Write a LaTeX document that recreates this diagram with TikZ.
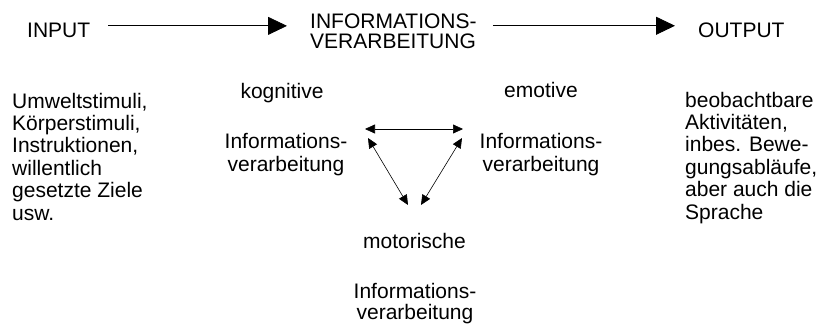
\documentclass[tikz,border=0pt]{standalone}
\usepackage{fontspec}
\setmainfont{Liberation Sans}
\usetikzlibrary{arrows.meta}

\begin{document}
\begin{tikzpicture}[x=1pt, y=1pt,
  txt/.style={inner sep=0pt, font=\fontsize{21}{22.4}\selectfont},
  flow/.style={line width=0.8pt, -{Triangle[length=19pt, width=18pt]}},
  link/.style={line width=0.6pt, {Triangle[length=10pt, width=9pt]}-{Triangle[length=10pt, width=9pt]}}]
\path[use as bounding box] (0,0) rectangle (817,-324);
% top row (multi-line nodes sit on their last baseline)
\node[txt, anchor=base west] (input) at (27,-37) {INPUT};
\node[txt, anchor=base west, align=left, font=\fontsize{21}{20}\selectfont] (info) at (310,-48) {INFORMATIONS-\\VERARBEITUNG};
\node[txt, anchor=base west] (output) at (698,-37) {OUTPUT};
\draw[flow, shorten <=18pt, shorten >=23pt] ([yshift=4pt]input.east) -- ([yshift=4pt]input.east -| info.west);
\draw[flow, shorten <=16pt, shorten >=23pt] ([yshift=4pt]output.west -| info.east) -- ([yshift=4pt]output.west);
% input and output texts
\node[txt, anchor=base west, align=left] (stimuli) at (12,-220) {Umweltstimuli,\\K\"orperstimuli,\\Instruktionen,\\willentlich\\gesetzte Ziele\\usw.};
\node[txt, anchor=base west, align=left] (aktiv) at (685,-219) {beobachtbare\\Aktivit\"aten,\\inbes. Bewe-\\gungsabl\"aufe,\\aber auch die\\Sprache};
% three kinds of processing
\node[txt, anchor=base] (kog) at (282,-98) {kognitive};
\node[txt, anchor=base, align=center] (kogIV) at (286,-171) {Informations-\\verarbeitung};
\node[txt, anchor=base] (emo) at (541,-97) {emotive};
\node[txt, anchor=base, align=center] (emoIV) at (541,-171) {Informations-\\verarbeitung};
\node[txt, anchor=base] (mot) at (414.5,-248) {motorische};
\node[txt, anchor=base, align=center, font=\fontsize{21}{21}\selectfont] (motIV) at (415,-319) {Informations-\\verarbeitung};
% arrows between them
\coordinate (kR) at (365,-129);
\coordinate (eL) at (463,-129);
\coordinate (kD) at (368,-138);
\coordinate (eD) at (462,-138);
\coordinate (mL) at (408,-205);
\coordinate (mR) at (421,-205);
\draw[link] (kR) -- (eL);
\draw[link] (kD) -- (mL);
\draw[link] (eD) -- (mR);
\end{tikzpicture}
\end{document}
